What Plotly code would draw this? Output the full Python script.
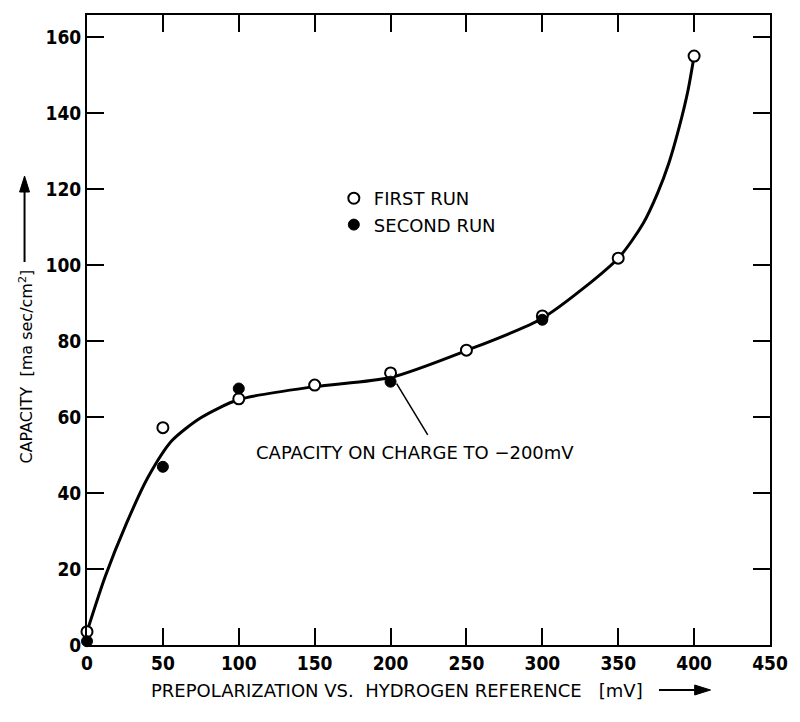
import plotly.graph_objects as go

# Measured capacity for two runs at each prepolarization potential
first_run_mv = [0, 50, 100, 150, 200, 250, 300, 350, 400]
first_run_cap = [3.5, 57.2, 64.8, 68.4, 71.6, 77.6, 86.6, 101.8, 155.0]

second_run_mv = [0, 50, 100, 200, 300]
second_run_cap = [1.0, 46.9, 67.5, 69.3, 85.6]

# Hand-faired curve through the data
curve_mv = [0, 12, 26, 40, 56, 75, 100, 150, 200, 250,
            300, 350, 366.5, 376, 383.5, 390, 396, 400]
curve_cap = [3.5, 18.0, 32.0, 44.0, 53.8, 59.8, 64.6, 68.0, 70.4, 77.5,
             86.0, 101.8, 111.0, 119.0, 127.0, 136.0, 146.0, 155.0]

x_ticks = [0, 50, 100, 150, 200, 250, 300, 350, 400, 450]
y_ticks = [0, 20, 40, 60, 80, 100, 120, 140, 160]

TICK_FONT = "DejaVu Sans Condensed, Liberation Sans Narrow, sans-serif"
TEXT_FONT = "DejaVu Sans, Liberation Sans, sans-serif"

# Plot-area geometry in pixels, used to place the free-standing decorations
L, R, T, B = 87, 776, 15, 645


def px(xp):
    return (xp - L) / (R - L)


def py(yp):
    return (B - yp) / (B - T)


fig = go.Figure()

fig.add_trace(go.Scatter(
    x=curve_mv, y=curve_cap, mode="lines",
    line=dict(color="black", width=3, shape="spline", smoothing=0.7),
    showlegend=False, hoverinfo="skip",
))

fig.add_trace(go.Scatter(
    x=first_run_mv, y=first_run_cap, mode="markers", name="FIRST RUN",
    marker=dict(symbol="circle", size=11, color="white",
                line=dict(color="black", width=2)),
    cliponaxis=False,
))

fig.add_trace(go.Scatter(
    x=second_run_mv, y=second_run_cap, mode="markers", name="SECOND RUN",
    marker=dict(symbol="circle", size=11, color="black",
                line=dict(color="black", width=1)),
    cliponaxis=False,
))

# Leader from the 200 mV second-run point to its note
fig.add_shape(type="line", xref="x", yref="y",
              x0=second_run_mv[3] + 4, y0=second_run_cap[3] - 0.5,
              x1=224.5, y1=55.3, line=dict(color="black", width=1.5))

fig.add_annotation(
    xref="paper", yref="paper", x=px(418), y=py(452),
    xanchor="center", yanchor="middle",
    text="CAPACITY ON CHARGE TO \u2212200mV", showarrow=False,
    font=dict(family=TEXT_FONT, size=18, color="black"),
)

# Axis titles
fig.add_annotation(
    xref="paper", yref="paper", x=px(400), y=py(690),
    xanchor="center", yanchor="middle",
    text="PREPOLARIZATION VS.  HYDROGEN REFERENCE   [mV]",
    showarrow=False, font=dict(family=TEXT_FONT, size=18, color="black"),
)
fig.add_annotation(
    xref="paper", yref="paper", x=px(25), y=py(367),
    xanchor="center", yanchor="middle",
    text="CAPACITY  [ma sec/cm<sup>2</sup>]", textangle=-90,
    showarrow=False, font=dict(family=TEXT_FONT, size=16, color="black"),
)

# Direction arrows next to the axis titles
fig.add_shape(type="line", xref="paper", yref="paper",
              x0=px(664), y0=py(690), x1=px(704), y1=py(690),
              line=dict(color="black", width=2))
fig.add_shape(type="path", xref="paper", yref="paper",
              path=f"M {px(700)},{py(685)} L {px(716)},{py(690)} L {px(700)},{py(695)} Z",
              fillcolor="black", line=dict(color="black", width=1))
fig.add_shape(type="line", xref="paper", yref="paper",
              x0=px(24), y0=py(262), x1=px(24), y1=py(188),
              line=dict(color="black", width=2))
fig.add_shape(type="path", xref="paper", yref="paper",
              path=f"M {px(19)},{py(192)} L {px(24)},{py(176)} L {px(29)},{py(192)} Z",
              fillcolor="black", line=dict(color="black", width=1))

axis_common = dict(
    showline=True, linecolor="black", linewidth=2, mirror="ticks",
    ticks="inside", ticklen=17, tickwidth=1.5, tickcolor="black",
    showgrid=False, zeroline=False,
    tickfont=dict(family=TICK_FONT, size=19, color="black", weight="bold"),
)

fig.update_xaxes(range=[0, 450], tickvals=x_ticks, **axis_common)
fig.update_yaxes(range=[0, 165.8], tickvals=y_ticks, **axis_common)

fig.update_layout(
    width=800, height=722,
    margin=dict(l=L, r=800 - R, t=T, b=722 - B),
    paper_bgcolor="white", plot_bgcolor="white",
    showlegend=True,
    legend=dict(x=px(336), y=py(180), xanchor="left", yanchor="top",
                bgcolor="rgba(0,0,0,0)",
                font=dict(family=TEXT_FONT, size=18, color="black"),
                tracegroupgap=0),
)

fig.write_html("out.html")
